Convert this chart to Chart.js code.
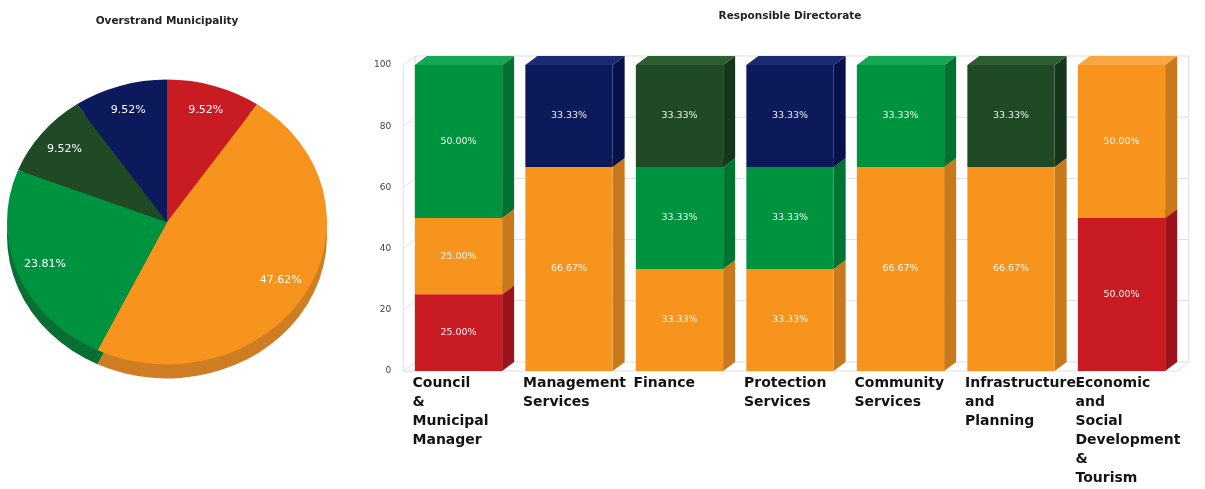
<!DOCTYPE html>
<html>
<head>
<meta charset="utf-8">
<script src="https://cdn.jsdelivr.net/npm/chart.js@4.4.1/dist/chart.umd.min.js"></script>
<style>
  html, body { margin: 0; padding: 0; background: #fff; overflow: hidden; }
  #pie { position: absolute; left: 0; top: 0; }
  #bars { position: absolute; left: 355px; top: 0; }
</style>
</head>
<body>
<canvas id="pie" width="340" height="489"></canvas>
<canvas id="bars" width="850" height="489"></canvas>
<script>
// series (same order in both charts, bottom of stack first)
const seriesNames = ['KPIs Not Met', 'KPIs Almost Met', 'KPIs Met', 'KPIs Well Met', 'KPIs Extremely Well Met'];
const frontColors = ['#c91c22', '#f7941e', '#00933f', '#1f4a25', '#0c1a5b'];
const sideColors  = ['#9c141a', '#c8791c', '#007232', '#15361a', '#07114a'];
const topColors   = ['#d8363b', '#f9a643', '#16a752', '#2c5e32', '#1b2b73'];
const rimColors   = ['#9c141a', '#cf7d22', '#0a6d31', '#15361a', '#07114a'];

// overall share (%)
const overallShare = [9.52, 47.62, 23.81, 9.52, 9.52];

// per directorate (%)
const directorates = [
  ['Council', '&', 'Municipal', 'Manager'],
  ['Management', 'Services'],
  ['Finance'],
  ['Protection', 'Services'],
  ['Community', 'Services'],
  ['Infrastructure', 'and', 'Planning'],
  ['Economic', 'and', 'Social', 'Development', '&', 'Tourism']
];
const notMet           = [25, 0, 0, 0, 0, 0, 50];
const almostMet        = [25, 66.67, 33.33, 33.33, 66.67, 66.67, 50];
const met              = [50, 0, 33.33, 33.33, 33.33, 0, 0];
const wellMet          = [0, 0, 33.33, 0, 0, 33.33, 0];
const extremelyWellMet = [0, 33.33, 0, 33.33, 0, 0, 0];
const yTicks = [0, 20, 40, 60, 80, 100];

Chart.defaults.font.family = "'DejaVu Sans', Verdana, sans-serif";

// ---- pie: squash vertically and add a rim ----
const pieTilt = 0.89, pieDepth = 14;
const tiltPie = {
  id: 'tiltPie',
  beforeDatasetsDraw(chart) {
    const ctx = chart.ctx;
    const arcs = chart.getDatasetMeta(0).data;
    const cx = arcs[0].x, cy = arcs[0].y;
    ctx.save();
    ctx.translate(cx, cy + pieDepth);
    ctx.scale(1, pieTilt);
    arcs.forEach((a, i) => {
      ctx.beginPath();
      ctx.moveTo(0, 0);
      ctx.arc(0, 0, a.outerRadius, a.startAngle, a.endAngle);
      ctx.closePath();
      ctx.fillStyle = rimColors[i];
      ctx.fill();
    });
    ctx.restore();
    ctx.save();
    ctx.translate(cx, cy);
    ctx.scale(1, pieTilt);
    ctx.translate(-cx, -cy);
  },
  afterDatasetsDraw(chart) {
    const ctx = chart.ctx;
    ctx.restore();
    const arcs = chart.getDatasetMeta(0).data;
    const vals = chart.data.datasets[0].data;
    ctx.save();
    ctx.font = '11px "DejaVu Sans"';
    ctx.fillStyle = '#ffffff';
    ctx.textAlign = 'center';
    ctx.textBaseline = 'middle';
    arcs.forEach((a, i) => {
      const mid = (a.startAngle + a.endAngle) / 2;
      const r = a.outerRadius * 0.82;
      ctx.fillText(vals[i].toFixed(2) + '%', a.x + Math.cos(mid) * r, a.y + Math.sin(mid) * r * pieTilt);
    });
    ctx.restore();
  }
};

new Chart(document.getElementById('pie'), {
  type: 'pie',
  data: {
    labels: seriesNames,
    datasets: [{ data: overallShare, backgroundColor: frontColors, borderWidth: 0 }]
  },
  options: {
    responsive: false,
    animation: false,
    layout: { padding: { left: 7, right: 13, top: 0, bottom: 107 } },
    plugins: {
      legend: { display: false },
      tooltip: { enabled: false },
      title: {
        display: true,
        text: 'Overstrand Municipality',
        color: '#222',
        font: { size: 10.5, weight: 'bold', lineHeight: 1.2 },
        padding: { top: 15, bottom: 34.4 }
      }
    }
  },
  plugins: [tiltPie]
});

// ---- bars: fake 3D ----
const dx = 12, dy = 9;

const centerTitle = {
  id: 'centerTitle',
  afterLayout(chart) {
    if (chart.titleBlock) {
      chart.titleBlock.left = chart.chartArea.left;
      chart.titleBlock.right = chart.chartArea.right;
    }
  }
};

const wall = {
  id: 'wall',
  beforeDatasetsDraw(chart) {
    const {ctx, chartArea: {left, right, top, bottom}, scales: {y}} = chart;
    ctx.save();
    ctx.strokeStyle = '#dedede';
    ctx.lineWidth = 1;
    ctx.beginPath();
    y.ticks.forEach(t => {
      const py = y.getPixelForValue(t.value);
      ctx.moveTo(left, py);
      ctx.lineTo(left + dx, py - dy);
      ctx.lineTo(right + dx, py - dy);
    });
    ctx.moveTo(left, top); ctx.lineTo(left, bottom); ctx.lineTo(right, bottom); ctx.lineTo(right + dx, bottom - dy);
    ctx.moveTo(left + dx, top - dy); ctx.lineTo(left + dx, bottom - dy);
    ctx.moveTo(right + dx, top - dy); ctx.lineTo(right + dx, bottom - dy);
    ctx.stroke();
    ctx.restore();
  }
};

const faces = {
  id: 'faces',
  beforeDatasetsDraw(chart) {
    const ctx = chart.ctx;
    ctx.save();
    chart.data.datasets.forEach((ds, i) => {
      chart.getDatasetMeta(i).data.forEach((bar, j) => {
        if (!ds.data[j]) return;
        const l = bar.x - bar.width / 2, r = bar.x + bar.width / 2;
        ctx.fillStyle = sideColors[i];
        ctx.beginPath();
        ctx.moveTo(r, bar.y); ctx.lineTo(r + dx, bar.y - dy);
        ctx.lineTo(r + dx, bar.base - dy); ctx.lineTo(r, bar.base);
        ctx.closePath(); ctx.fill();
        ctx.fillStyle = topColors[i];
        ctx.beginPath();
        ctx.moveTo(l, bar.y); ctx.lineTo(l + dx, bar.y - dy);
        ctx.lineTo(r + dx, bar.y - dy); ctx.lineTo(r, bar.y);
        ctx.closePath(); ctx.fill();
      });
    });
    ctx.restore();
  },
  afterDatasetsDraw(chart) {
    const ctx = chart.ctx;
    ctx.save();
    ctx.font = '9.5px "DejaVu Sans"';
    ctx.fillStyle = 'rgba(255,255,255,0.92)';
    ctx.textAlign = 'center';
    ctx.textBaseline = 'middle';
    chart.data.datasets.forEach((ds, i) => {
      chart.getDatasetMeta(i).data.forEach((bar, j) => {
        if (!ds.data[j]) return;
        ctx.fillText(ds.data[j].toFixed(2) + '%', bar.x, (bar.y + bar.base) / 2);
      });
    });
    ctx.restore();
  }
};

const barSeries = [notMet, almostMet, met, wellMet, extremelyWellMet];

new Chart(document.getElementById('bars'), {
  type: 'bar',
  data: {
    labels: directorates,
    datasets: barSeries.map((d, i) => ({
      label: seriesNames[i],
      data: d,
      backgroundColor: frontColors[i],
      borderWidth: 0,
      barPercentage: 0.79,
      categoryPercentage: 1
    }))
  },
  options: {
    responsive: false,
    animation: false,
    layout: { padding: { left: 8.25, right: 28.25, top: 0, bottom: 0 } },
    plugins: {
      legend: { display: false },
      tooltip: { enabled: false },
      title: {
        display: true,
        text: 'Responsible Directorate',
        color: '#222',
        font: { size: 10.5, weight: 'bold', lineHeight: 1.2 },
        padding: { top: 10, bottom: 42.4 }
      }
    },
    scales: {
      x: {
        stacked: true,
        grid: { display: false, drawTicks: false },
        border: { display: false },
        ticks: {
          align: 'start', labelOffset: -46, padding: 3,
          maxRotation: 0, minRotation: 0, autoSkip: false,
          color: '#141414',
          font: { size: 14, weight: 'bold', lineHeight: 1.35 }
        },
        afterFit(s) { s.height = 118; s.paddingLeft = 0; s.paddingRight = 0; }
      },
      y: {
        stacked: true, min: 0, max: 100,
        afterBuildTicks(s) { s.ticks = yTicks.map(v => ({ value: v })); },
        grid: { display: false, drawTicks: false },
        border: { display: false },
        ticks: { padding: 12, color: '#444', font: { size: 9 } },
        afterFit(s) { s.width = 40; s.paddingTop = 0; s.paddingBottom = 0; }
      }
    }
  },
  plugins: [centerTitle, wall, faces]
});
</script>
</body>
</html>
